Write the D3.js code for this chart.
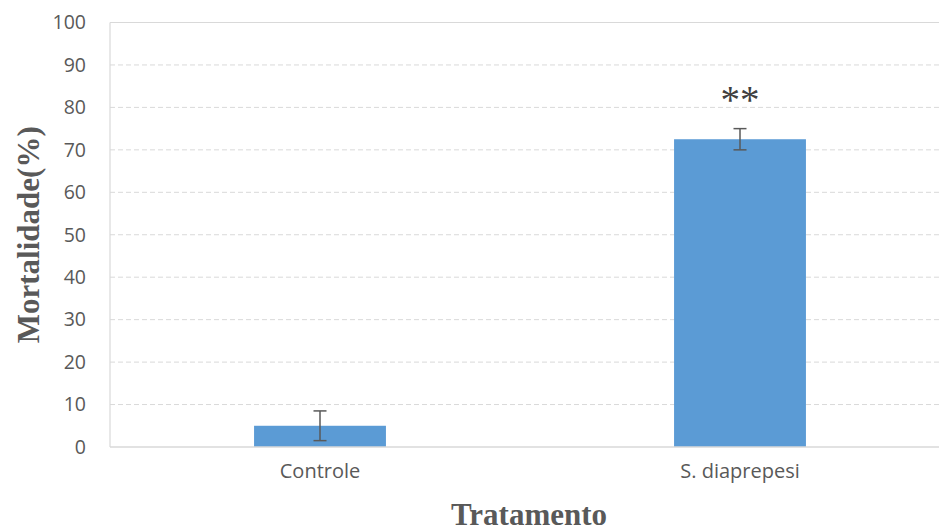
<!DOCTYPE html>
<html>
<head>
<meta charset="utf-8">
<script src="https://cdn.jsdelivr.net/npm/d3@7"></script>
<style>
  body { margin: 0; background: #fff; }
  svg { display: block; }
</style>
</head>
<body>
<svg id="chart"></svg>
<script>
const categories = ["Controle", "S. diaprepesi"];
const mortality = [5, 72.5];
const errors = [3.5, 2.5];
const marks = ["", "**"];
const yTicks = [0, 10, 20, 30, 40, 50, 60, 70, 80, 90, 100];

const svgWidth = 939, svgHeight = 531;
const margin = { top: 22.5, right: -11, bottom: 84, left: 110 };
const width = svgWidth - margin.left - margin.right;
const height = svgHeight - margin.top - margin.bottom;

const svg = d3.select("#chart")
  .attr("width", svgWidth)
  .attr("height", svgHeight);

const g = svg.append("g")
  .attr("transform", `translate(${margin.left},${margin.top})`);

const x = d3.scaleBand()
  .domain(categories)
  .range([0, width])
  .paddingInner(0.686)
  .paddingOuter(0.343);

const y = d3.scaleLinear()
  .domain([0, 100])
  .range([height, 0]);

// grid
g.selectAll(".grid")
  .data(yTicks.filter(d => d > 0 && d < 100))
  .enter().append("line")
  .attr("x1", 0).attr("x2", width)
  .attr("y1", d => y(d)).attr("y2", d => y(d))
  .attr("stroke", "#d9d9d9")
  .attr("stroke-width", 1)
  .attr("stroke-dasharray", "5,3");

// border top / left
g.append("line").attr("x1", 0).attr("x2", width).attr("y1", y(100)).attr("y2", y(100))
  .attr("stroke", "#d9d9d9").attr("stroke-width", 1.2);
g.append("line").attr("x1", 0).attr("x2", 0).attr("y1", 0).attr("y2", height)
  .attr("stroke", "#d9d9d9").attr("stroke-width", 1.2);

// y axis labels
const yAxis = g.append("g")
  .call(d3.axisLeft(y).tickValues(yTicks).tickSize(0).tickPadding(24));
yAxis.select(".domain").remove();
yAxis.selectAll("text")
  .style("font-family", "'Open Sans', 'Noto Sans', sans-serif")
  .style("font-size", "19.5px")
  .style("fill", "#595959");

// bars
g.selectAll(".bar")
  .data(categories)
  .enter().append("rect")
  .attr("x", d => x(d))
  .attr("y", (d, i) => y(mortality[i]))
  .attr("width", x.bandwidth())
  .attr("height", (d, i) => height - y(mortality[i]))
  .attr("fill", "#5b9bd5");

// error bars
const eb = g.selectAll(".err")
  .data(categories)
  .enter().append("g")
  .attr("transform", d => `translate(${x(d) + x.bandwidth() / 2},0)`);
eb.append("line")
  .attr("y1", (d, i) => y(mortality[i] + errors[i]))
  .attr("y2", (d, i) => y(mortality[i] - errors[i]))
  .attr("stroke", "#595959").attr("stroke-width", 1.5);
eb.append("line")
  .attr("x1", -6.5).attr("x2", 6.5)
  .attr("y1", (d, i) => y(mortality[i] + errors[i]))
  .attr("y2", (d, i) => y(mortality[i] + errors[i]))
  .attr("stroke", "#595959").attr("stroke-width", 1.5);
eb.append("line")
  .attr("x1", -6.5).attr("x2", 6.5)
  .attr("y1", (d, i) => y(mortality[i] - errors[i]))
  .attr("y2", (d, i) => y(mortality[i] - errors[i]))
  .attr("stroke", "#595959").attr("stroke-width", 1.5);

// significance marks
eb.append("text")
  .attr("y", (d, i) => y(mortality[i] + errors[i]) - 16)
  .attr("text-anchor", "middle")
  .style("font-family", "'Liberation Serif', serif")
  .style("font-size", "39px")
  .style("fill", "#404040")
  .text((d, i) => marks[i]);

// x axis
g.append("line").attr("x1", 0).attr("x2", width).attr("y1", height).attr("y2", height)
  .attr("stroke", "#d9d9d9").attr("stroke-width", 1.5);
const xAxis = g.append("g")
  .attr("transform", `translate(0,${height})`)
  .call(d3.axisBottom(x).tickSize(0).tickPadding(17));
xAxis.select(".domain").remove();
xAxis.selectAll("text")
  .style("font-family", "'Open Sans', 'Noto Sans', sans-serif")
  .style("font-size", "20px")
  .style("fill", "#595959");

// axis titles
svg.append("text")
  .attr("x", 529)
  .attr("y", 525)
  .attr("text-anchor", "middle")
  .style("font-family", "'Liberation Serif', 'Times New Roman', serif")
  .style("font-weight", "bold")
  .style("font-size", "31px")
  .style("fill", "#595959")
  .text("Tratamento");

svg.append("text")
  .attr("transform", `translate(39,${margin.top + height / 2}) rotate(-90)`)
  .attr("text-anchor", "middle")
  .style("font-family", "'Liberation Serif', 'Times New Roman', serif")
  .style("font-weight", "bold")
  .style("font-size", "31px")
  .style("fill", "#595959")
  .text("Mortalidade(%)");
</script>
</body>
</html>
